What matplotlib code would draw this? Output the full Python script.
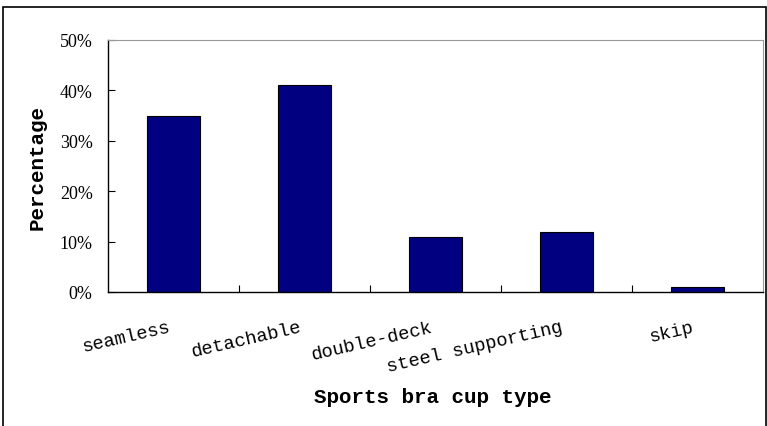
import matplotlib
matplotlib.use('Agg')
import matplotlib.pyplot as plt
from matplotlib.patches import Rectangle
from matplotlib.ticker import FuncFormatter, MultipleLocator

# ── DATA ──────────────────────────────────────────────
cup_types = ['seamless', 'detachable', 'double-deck', 'steel supporting', 'skip']
share = [0.35, 0.41, 0.11, 0.12, 0.01]

W, H = 767, 427
fig = plt.figure(figsize=(W / 100, H / 100), dpi=100)

# outer chart frame
fig.patches.append(Rectangle((3 / W, -0.01), (W - 4) / W, (H - 8) / H + 0.01,
                             transform=fig.transFigure, fill=False,
                             edgecolor='black', linewidth=1.2))

ax = fig.add_axes([108 / W, (H - 293) / H, (763 - 108) / W, (293 - 41) / H])

x = range(len(cup_types))
ax.bar(x, share, width=0.4, color='#000080', edgecolor='black', linewidth=0.8)

ax.set_xlim(-0.5, len(cup_types) - 0.5)
ax.set_ylim(0, 0.5)
ax.yaxis.set_major_locator(MultipleLocator(0.1))
ax.yaxis.set_major_formatter(FuncFormatter(lambda v, _: f'{v * 100:.0f}%'))

# category separators on the x axis
ax.set_xticks([i + 0.5 for i in range(len(cup_types) - 1)])
ax.set_xticklabels([])
ax.tick_params(axis='x', direction='in', length=5, width=0.8)
ax.tick_params(axis='y', direction='in', length=5, width=0.8, pad=11)

for lbl in ax.get_yticklabels():
    lbl.set_fontfamily('Liberation Serif')
    lbl.set_fontsize(13)

for i, name in enumerate(cup_types):
    ax.annotate(name, xy=(i, 0), xycoords=('data', 'axes fraction'),
                xytext=(-4, -19), textcoords='offset points',
                ha='right', va='top', rotation=13, rotation_mode='anchor',
                family='Liberation Mono', fontsize=13.5)

ax.spines['left'].set_color('black')
ax.spines['bottom'].set_color('black')
ax.spines['left'].set_linewidth(1.0)
ax.spines['bottom'].set_linewidth(1.0)
ax.spines['top'].set_color('#999999')
ax.spines['right'].set_color('#999999')
ax.spines['top'].set_linewidth(0.8)
ax.spines['right'].set_linewidth(0.8)

fig.text(37 / W, (H - 168) / H, 'Percentage', rotation=90, ha='center', va='center',
         family='Liberation Mono', fontweight='bold', fontsize=15)
fig.text(433 / W, (H - 398) / H, 'Sports bra cup type', ha='center', va='center',
         family='Liberation Mono', fontweight='bold', fontsize=15)

fig.savefig('out.png', dpi=100)
